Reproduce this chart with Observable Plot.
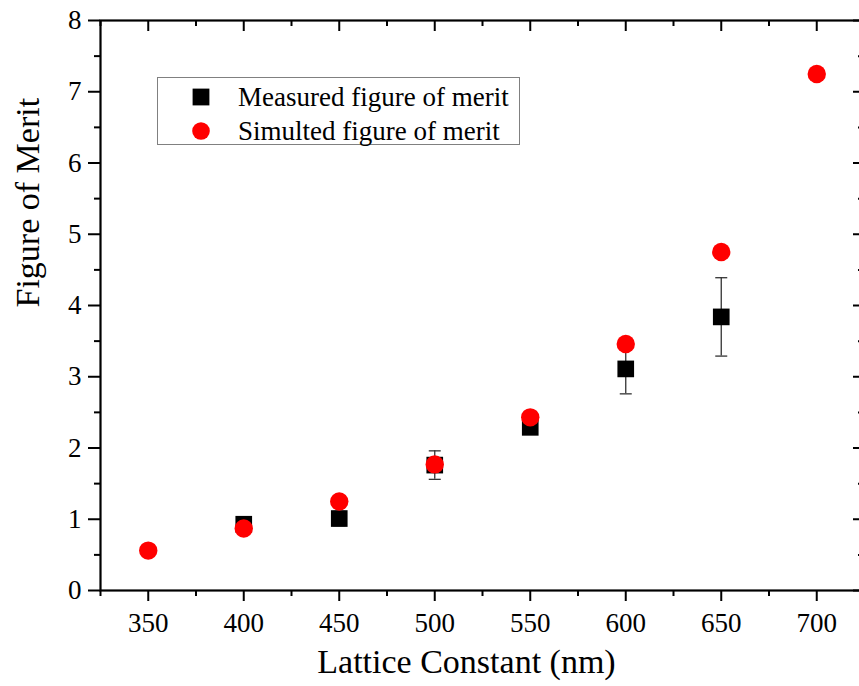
<!DOCTYPE html>
<html><head><meta charset="utf-8">
<script src="https://cdn.jsdelivr.net/npm/d3@7"></script>
<script src="https://cdn.jsdelivr.net/npm/@observablehq/plot@0.6"></script>
<style>
html,body{margin:0;padding:0;background:#fff;overflow:hidden;width:859px;height:686px}
#wrap{position:relative;width:859px;height:686px;overflow:hidden}
#wrap > svg{position:absolute;left:0;top:0;max-width:none}
#legend{position:absolute;left:157px;top:77px;width:363px;height:68px;border:1.5px solid #808080;box-sizing:border-box;font-family:"Liberation Serif",serif;font-size:27px;background:#fff;color:#000}
#legend .row{position:absolute;left:0;height:30px;width:100%}
#legend .row svg{position:absolute;left:33px;top:5px}
#legend .row span{position:absolute;left:80px;top:0;line-height:30px;white-space:nowrap}
</style></head>
<body><div id="wrap"><div id="legend"></div></div>
<script>
// ---- data ----
const simLattice = [350, 400, 450, 500, 550, 600, 650, 700];
const simulated  = [0.56, 0.87, 1.25, 1.77, 2.43, 3.46, 4.75, 7.25];
const measLattice = [400, 450, 500, 550, 600, 650];
const measured    = [0.93, 1.01, 1.76, 2.29, 3.11, 3.84];
const measuredErr = [0.03, 0.10, 0.20, 0.05, 0.35, 0.55];
const xMajor = [350, 400, 450, 500, 550, 600, 650, 700];
const xMinor = [325, 375, 425, 475, 525, 575, 625, 675, 725];
const yMajor = [0, 1, 2, 3, 4, 5, 6, 7, 8];
const yMinor = [0.5, 1.5, 2.5, 3.5, 4.5, 5.5, 6.5, 7.5];
const seriesNames = ["Measured figure of merit", "Simulted figure of merit"];
const xTitle = "Lattice Constant (nm)";
const yTitle = "Figure of Merit";

const simData = simLattice.map((x, i) => ({x, y: simulated[i]}));
const measData = measLattice.map((x, i) => ({x, y: measured[i], e: measuredErr[i]}));

const W = 866, H = 686, mL = 100, mR = 2, mT = 20, mB = 96;
const plotW = W - mL - mR, plotH = H - mT - mB;
const capSymbol = {draw(ctx, size) { const w = Math.sqrt(size / Math.PI); ctx.moveTo(-w, 0); ctx.lineTo(w, 0); }};

const chart = Plot.plot({
  width: W, height: H,
  marginLeft: mL, marginRight: mR, marginTop: mT, marginBottom: mB,
  style: {fontFamily: "Liberation Serif, serif", background: "white", color: "black", overflow: "visible", maxWidth: "none"},
  x: {domain: [325, 725], label: null},
  y: {domain: [0, 8], label: null},
  marks: [
    Plot.axisX(xMajor, {anchor: "bottom", tickSize: 11, tickPadding: 11, fontSize: 27, label: null, strokeWidth: 2, tickFormat: d => d}),
    Plot.axisX(xMinor, {anchor: "bottom", tickSize: 6, tickFormat: () => "", label: null, strokeWidth: 2}),
    Plot.axisY(yMajor, {anchor: "left", tickSize: 12, tickPadding: 7, fontSize: 27, label: null, strokeWidth: 2, tickFormat: d => d}),
    Plot.axisY(yMinor, {anchor: "left", tickSize: 6, tickFormat: () => "", label: null, strokeWidth: 2}),
    Plot.tickX(xMajor, {x: d => d, insetBottom: plotH - 11, strokeWidth: 2}),
    Plot.tickX(xMinor, {x: d => d, insetBottom: plotH - 6, strokeWidth: 2}),
    Plot.tickY(yMajor, {y: d => d, insetLeft: plotW - 11, strokeWidth: 2}),
    Plot.tickY(yMinor, {y: d => d, insetLeft: plotW - 6, strokeWidth: 2}),
    Plot.frame({stroke: "black", strokeWidth: 2.2}),
    Plot.ruleX(measData, {x: "x", y1: d => d.y - d.e, y2: d => d.y + d.e, stroke: "#333", strokeWidth: 1.3}),
    Plot.dot(measData, {x: "x", y: d => d.y - d.e, symbol: capSymbol, r: 6, stroke: "#333", strokeWidth: 1.3, fill: "none"}),
    Plot.dot(measData, {x: "x", y: d => d.y + d.e, symbol: capSymbol, r: 6, stroke: "#333", strokeWidth: 1.3, fill: "none"}),
    Plot.dot(measData, {x: "x", y: "y", symbol: "square", r: 9.4, fill: "black", stroke: "none"}),
    Plot.dot(simData, {x: "x", y: "y", r: 9.2, fill: "#ff0000", stroke: "none"}),
    Plot.text([xTitle], {text: d => d, frameAnchor: "bottom", dx: -16, dy: 72, fontSize: 34, lineAnchor: "middle"}),
    Plot.text([yTitle], {text: d => d, frameAnchor: "left", dx: -72, dy: 2, rotate: -90, fontSize: 34, lineAnchor: "middle"})
  ]
});
const wrap = document.getElementById("wrap");
wrap.insertBefore(chart, wrap.firstChild);

// legend
const legend = document.getElementById("legend");
const icons = [
  `<svg width="20" height="20"><rect x="1.6" y="1.6" width="16.8" height="16.8" fill="black"/></svg>`,
  `<svg width="20" height="20"><circle cx="10" cy="10" r="8.8" fill="#ff0000"/></svg>`
];
seriesNames.forEach((name, i) => {
  const row = document.createElement("div");
  row.className = "row";
  row.style.top = (4 + i * 34) + "px";
  row.innerHTML = icons[i] + `<span>${name}</span>`;
  legend.appendChild(row);
});
</script>
</body></html>
